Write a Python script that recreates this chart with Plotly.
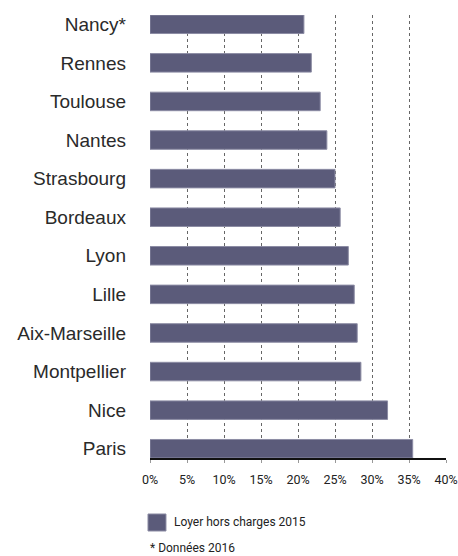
import plotly.graph_objects as go

# villes du bas vers le haut (Plotly place la première catégorie en bas)
villes = ["Paris", "Nice", "Montpellier", "Aix-Marseille", "Lille", "Lyon",
          "Bordeaux", "Strasbourg", "Nantes", "Toulouse", "Rennes", "Nancy*"]
loyer_2015 = [35.5, 32.1, 28.5, 28.0, 27.6, 26.8, 25.7, 25.0, 23.9, 23.0, 21.8, 20.8]

x_ticks = [0, 5, 10, 15, 20, 25, 30, 35, 40]
x_labels = [f"{v}%" for v in x_ticks]

bar_color = "#5b5b7a"
small_font = "Roboto, sans-serif"

fig = go.Figure()
fig.add_trace(go.Bar(
    x=loyer_2015, y=villes, orientation="h",
    width=0.48,
    marker=dict(color=bar_color, line=dict(color="#8c8ca4", width=1)),
    name="Loyer hors charges 2015",
    showlegend=False,
))

fig.update_layout(
    width=458, height=556,
    margin=dict(l=150, r=12, t=15, b=98),
    plot_bgcolor="white", paper_bgcolor="white",
    font=dict(family=small_font, color="#222"),
)
fig.update_xaxes(
    range=[0, 40], tickvals=x_ticks, ticktext=x_labels, automargin=False,
    showgrid=True, gridcolor="#666", griddash="dot", gridwidth=1,
    zeroline=False,
    showline=True, linecolor="#111", linewidth=1.5,
    ticks="outside", ticklen=3, tickcolor="#999", ticklabelstandoff=6,
    ticklabeloverflow="allow",
    tickfont=dict(size=12.5, family=small_font, color="#222"),
)
fig.update_yaxes(
    range=[-0.24, 11.24], automargin=False,
    showgrid=False, zeroline=False, showline=False,
    ticks="", ticklabelstandoff=23,
    tickfont=dict(size=19, family="Liberation Sans, Arial, sans-serif", color="#2a2a2a"),
)

# légende et note
fig.add_shape(type="rect", xref="paper", yref="paper",
              x0=-0.0068, x1=0.054, y0=-0.1264, y1=-0.1648,
              fillcolor=bar_color, line=dict(color="#8c8ca4", width=1))
fig.add_annotation(text="Loyer hors charges 2015", xref="paper", yref="paper",
                   x=0.0743, y=-0.1445, xanchor="left", yanchor="middle",
                   showarrow=False, font=dict(size=12, family=small_font, color="#222"))
fig.add_annotation(text="* Données 2016", xref="paper", yref="paper",
                   x=-0.0068, y=-0.203, xanchor="left", yanchor="middle",
                   showarrow=False, font=dict(size=12, family=small_font, color="#222"))

# retire la marge par défaut du body pour que la figure occupe toute la fenêtre
fig.write_html("out.html", config={"displayModeBar": False},
               post_script="document.body.style.margin='0';")
